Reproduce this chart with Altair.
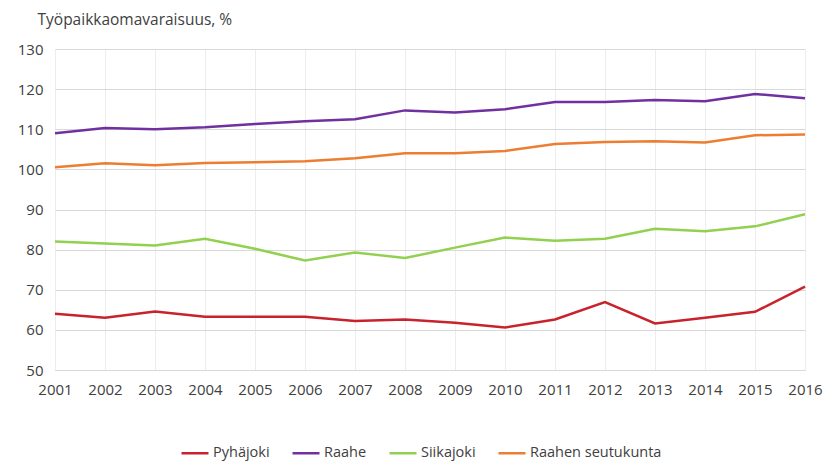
import altair as alt
import pandas as pd

years = list(range(2001, 2017))
series_names = ["Pyhäjoki", "Raahe", "Siikajoki", "Raahen seutukunta"]
colors = ["#C8232C", "#7030A0", "#92D050", "#ED7D31"]

pyhajoki = [64.0, 63.0, 64.6, 63.3, 63.3, 63.3, 62.2, 62.6, 61.8, 60.6, 62.6, 66.9, 61.6, 63.0, 64.5, 70.8]
raahe = [109.0, 110.3, 110.0, 110.5, 111.3, 112.0, 112.5, 114.7, 114.2, 115.0, 116.8, 116.8, 117.3, 117.0, 118.8, 117.7]
siikajoki = [82.0, 81.5, 81.0, 82.7, 80.2, 77.3, 79.3, 77.9, 80.5, 83.0, 82.2, 82.7, 85.2, 84.6, 85.8, 88.8]
seutukunta = [100.5, 101.5, 101.0, 101.6, 101.8, 102.0, 102.8, 104.0, 104.0, 104.6, 106.3, 106.8, 107.0, 106.7, 108.5, 108.7]

y_ticks = [50, 60, 70, 80, 90, 100, 110, 120, 130]

rows = []
for name, vals in zip(series_names, [pyhajoki, raahe, siikajoki, seutukunta]):
    for yr, v in zip(years, vals):
        rows.append({"Vuosi": yr, "Alue": name, "Arvo": v})
df = pd.DataFrame(rows)

FONT = "Open Sans"
TXT = "#404040"

chart = alt.Chart(df).mark_line(strokeWidth=2.5).encode(
    x=alt.X("Vuosi:Q",
            scale=alt.Scale(domain=[years[0], years[-1]], nice=False, zero=False),
            axis=alt.Axis(values=years, format="d", title=None, labelPadding=12,
                          labelOverlap=False, labelFlush=False,
                          ticks=False, domainColor="#D9D9D9", gridColor="#EDEDED",
                          labelFontSize=15, labelColor=TXT, labelFont=FONT)),
    y=alt.Y("Arvo:Q",
            scale=alt.Scale(domain=[50, 130], nice=False, zero=False),
            axis=alt.Axis(values=y_ticks, title="Työpaikkaomavaraisuus, %", titleAngle=0,
                          titleAlign="left", titleBaseline="alphabetic", titleX=-18, titleY=-25,
                          titleFontSize=15.5, titleFontWeight="normal", titleColor=TXT,
                          titleFont=FONT, ticks=False, domain=False, gridColor="#D9D9D9",
                          labelPadding=12, labelFontSize=15, labelColor=TXT, labelFont=FONT)),
    color=alt.Color("Alue:N",
                    scale=alt.Scale(domain=series_names, range=colors),
                    sort=series_names,
                    legend=alt.Legend(title=None, orient="none", direction="horizontal",
                                      legendX=125, legendY=389, symbolType="stroke",
                                      symbolSize=729, symbolStrokeWidth=2.5, labelOffset=3,
                                      columnPadding=17, labelFontSize=14.5, labelColor=TXT,
                                      labelFont=FONT)),
).properties(
    width=750, height=321,
    padding={"left": 47, "top": 41, "right": 18, "bottom": 91},
    autosize=alt.AutoSizeParams(type="none"),
).configure_view(stroke=None)

chart.save("out.html", embed_options={"renderer": "svg", "actions": False})
